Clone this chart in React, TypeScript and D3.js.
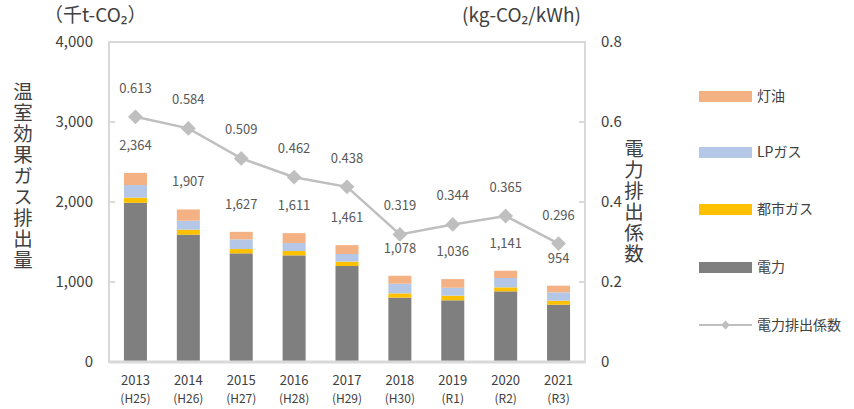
import React, {useEffect, useRef} from 'react';
import * as d3 from 'd3';

const years = ['2013', '2014', '2015', '2016', '2017', '2018', '2019', '2020', '2021'];
const eras = ['(H25)', '(H26)', '(H27)', '(H28)', '(H29)', '(H30)', '(R1)', '(R2)', '(R3)'];
const denryoku = [1990, 1591, 1358, 1333, 1200, 804, 771, 883, 716];
const toshiGas = [64, 63, 54, 54, 54, 54, 58, 50, 50];
const lpGas = [158, 112, 121, 100, 96, 121, 100, 117, 105];
const touyu = [152, 141, 94, 124, 111, 99, 107, 91, 83];
const totals = [2364, 1907, 1627, 1611, 1461, 1078, 1036, 1141, 954];
const coef = [0.613, 0.584, 0.509, 0.462, 0.438, 0.319, 0.344, 0.365, 0.296];
const leftTicks = [0, 1000, 2000, 3000, 4000];
const rightTicks = [0, 0.2, 0.4, 0.6, 0.8];

const seriesNames = ['電力', '都市ガス', 'LPガス', '灯油'];
const seriesColors = ['#7F7F7F', '#FFC000', '#B4C7E7', '#F4B183'];

const FONT = '"Noto Sans CJK JP", "Noto Sans", sans-serif';

const App = () => {
  const svgRef = useRef(null);

  useEffect(() => {
    const svg = d3.select(svgRef.current);
    svg.selectAll('*').remove();

    const left = 109, right = 585, top = 42, bottom = 362;
    const x = d3.scaleBand().domain(years).range([left, right]).paddingInner(0.565).paddingOuter(0.2825);
    const y = d3.scaleLinear().domain([0, 4000]).range([bottom, top]);
    const y2 = d3.scaleLinear().domain([0, 0.8]).range([bottom, top]);

    // plot border
    svg.append('rect')
      .attr('x', left).attr('y', top)
      .attr('width', right - left).attr('height', bottom - top)
      .attr('fill', 'none').attr('stroke', '#D9D9D9').attr('stroke-width', 2);

    // ticks
    leftTicks.forEach(t => {
      svg.append('line').attr('x1', left).attr('x2', left + 6)
        .attr('y1', y(t)).attr('y2', y(t)).attr('stroke', '#D9D9D9').attr('stroke-width', 2);
      svg.append('text').attr('x', 93).attr('y', y(t)).attr('dy', '0.36em')
        .attr('text-anchor', 'end').attr('font-size', 15).attr('fill', '#404040')
        .text(d3.format(',')(t));
    });
    rightTicks.forEach(t => {
      svg.append('line').attr('x1', right - 6).attr('x2', right)
        .attr('y1', y2(t)).attr('y2', y2(t)).attr('stroke', '#D9D9D9').attr('stroke-width', 2);
      svg.append('text').attr('x', 601).attr('y', y2(t)).attr('dy', '0.36em')
        .attr('font-size', 15).attr('fill', '#404040')
        .text(t === 0 ? '0' : t.toFixed(1));
    });

    // stacked bars
    const rows = years.map((yr, i) => ({
      year: yr, 電力: denryoku[i], 都市ガス: toshiGas[i], LPガス: lpGas[i], 灯油: touyu[i],
    }));
    const stack = d3.stack().keys(seriesNames)(rows);
    stack.forEach((layer, li) => {
      svg.append('g').selectAll('rect').data(layer).enter().append('rect')
        .attr('x', d => x(d.data.year))
        .attr('width', x.bandwidth())
        .attr('y', d => y(d[1]))
        .attr('height', d => y(d[0]) - y(d[1]))
        .attr('fill', seriesColors[li]);
    });
    svg.append('line').attr('x1', left).attr('x2', right).attr('y1', bottom).attr('y2', bottom)
      .attr('stroke', '#D9D9D9').attr('stroke-width', 3);

    // total labels
    svg.append('g').selectAll('text').data(totals).enter().append('text')
      .attr('x', (d, i) => x(years[i]) + x.bandwidth() / 2)
      .attr('y', d => y(d) - 23)
      .attr('text-anchor', 'middle').attr('font-size', 13).attr('fill', '#595959')
      .text(d => d3.format(',')(d));

    // coefficient line
    const cx = (i) => x(years[i]) + x.bandwidth() / 2;
    const line = d3.line().x((d, i) => cx(i)).y(d => y2(d));
    svg.append('path').attr('d', line(coef)).attr('fill', 'none')
      .attr('stroke', '#BFBFBF').attr('stroke-width', 2.5);
    const diamond = d3.symbol().type(d3.symbolDiamond2).size(140);
    svg.append('g').selectAll('path').data(coef).enter().append('path')
      .attr('d', diamond)
      .attr('transform', (d, i) => `translate(${cx(i)},${y2(d)})`)
      .attr('fill', '#BFBFBF');
    svg.append('g').selectAll('text').data(coef).enter().append('text')
      .attr('x', (d, i) => cx(i))
      .attr('y', d => y2(d) - 24)
      .attr('text-anchor', 'middle').attr('font-size', 13).attr('fill', '#595959')
      .text(d => d.toFixed(3));

    // x labels
    years.forEach((yr, i) => {
      svg.append('text').attr('x', cx(i)).attr('y', 385).attr('text-anchor', 'middle')
        .attr('font-size', 13).attr('fill', '#404040').text(yr);
      svg.append('text').attr('x', cx(i)).attr('y', 403).attr('text-anchor', 'middle')
        .attr('font-size', 12).attr('fill', '#404040').text(eras[i]);
    });

    // units
    svg.append('text').attr('x', 44).attr('y', 22).attr('font-size', 19).attr('fill', '#404040')
      .text('（千t-CO₂）');
    svg.append('text').attr('x', 462).attr('y', 22).attr('font-size', 19).attr('fill', '#404040')
      .text('(kg-CO₂/kWh)');

    // axis titles (vertical)
    svg.append('text').attr('x', 23).attr('y', 82)
      .style('writing-mode', 'vertical-rl').style('text-orientation', 'upright')
      .attr('letter-spacing', 1.5)
      .attr('font-size', 19.5).attr('fill', '#404040').text('温室効果ガス排出量');
    svg.append('text').attr('x', 634).attr('y', 139)
      .style('writing-mode', 'vertical-rl').style('text-orientation', 'upright')
      .attr('letter-spacing', 1.5)
      .attr('font-size', 19.5).attr('fill', '#404040').text('電力排出係数');

    // legend
    const legendY = [96, 152, 209, 267];
    const legendOrder = [3, 2, 1, 0];
    legendOrder.forEach((si, k) => {
      svg.append('rect').attr('x', 699).attr('y', legendY[k] - 5).attr('width', 53).attr('height', 11)
        .attr('fill', seriesColors[si]);
      svg.append('text').attr('x', 757).attr('y', legendY[k]).attr('dy', '0.36em')
        .attr('font-size', 14).attr('fill', '#404040').text(seriesNames[si]);
    });
    svg.append('line').attr('x1', 699).attr('x2', 752).attr('y1', 325).attr('y2', 325)
      .attr('stroke', '#BFBFBF').attr('stroke-width', 2);
    svg.append('path').attr('d', d3.symbol().type(d3.symbolDiamond2).size(50))
      .attr('transform', 'translate(725.5,325)').attr('fill', '#BFBFBF');
    svg.append('text').attr('x', 757).attr('y', 325).attr('dy', '0.36em')
      .attr('font-size', 14).attr('fill', '#404040').text('電力排出係数');
  }, []);

  return (
    <svg ref={svgRef} width={854} height={409}
      style={{position: 'absolute', left: 0, top: 0, fontFamily: FONT, background: '#fff'}} />
  );
};

export default App;
